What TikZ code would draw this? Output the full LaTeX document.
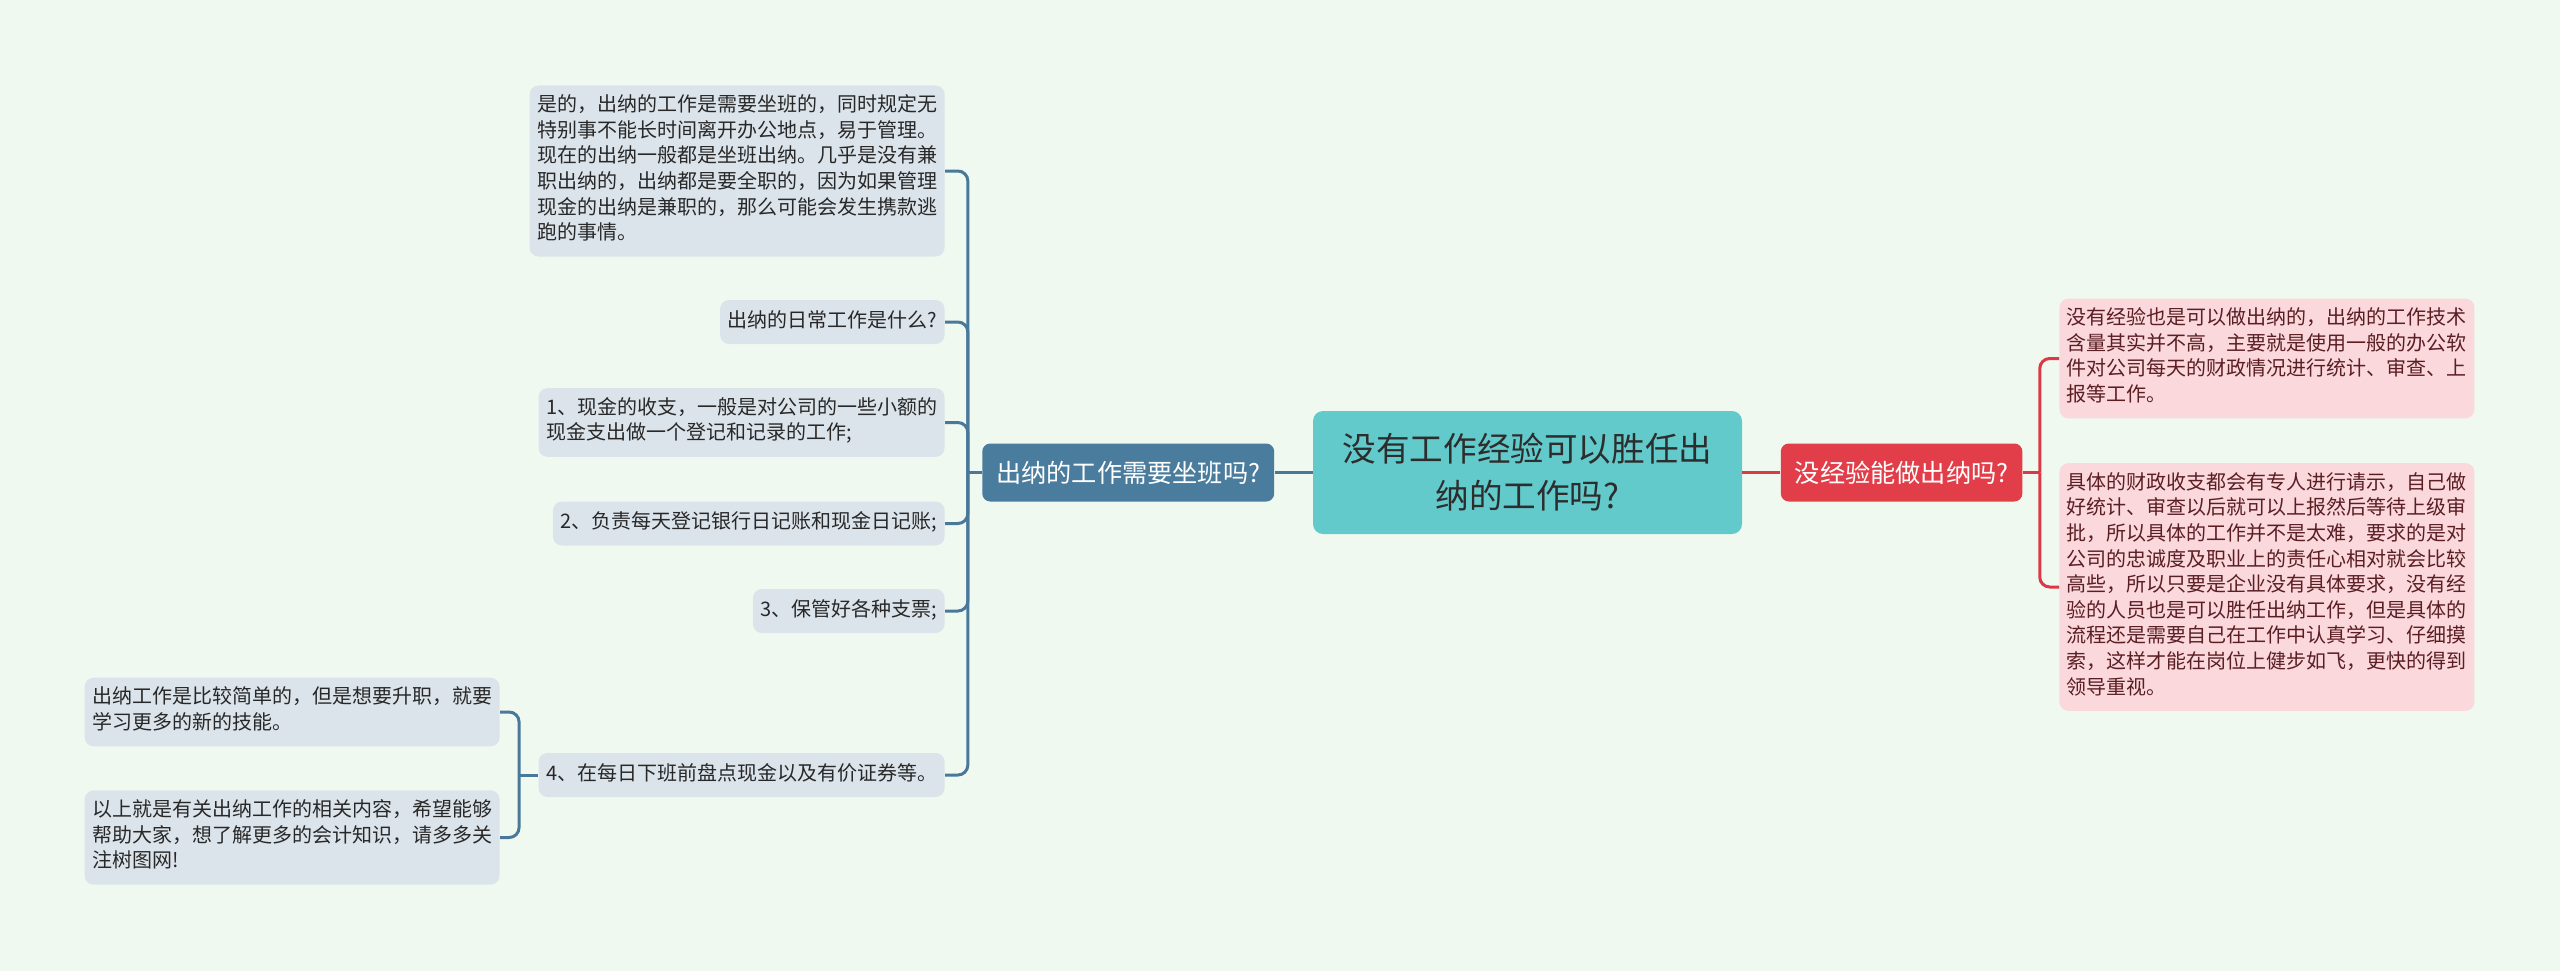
\documentclass[tikz,border=0pt]{standalone}
\usepackage{fontspec}
\setmainfont{Noto Sans CJK SC}
\usepackage{tikz}
\usetikzlibrary{positioning}
\definecolor{mintbg}{RGB}{240,249,240}
\definecolor{rootteal}{RGB}{99,202,204}
\definecolor{roottext}{RGB}{45,45,45}
\definecolor{sitblue}{RGB}{74,124,157}
\definecolor{leafblue}{RGB}{220,228,235}
\definecolor{lineblue}{RGB}{74,120,155}
\definecolor{inktext}{RGB}{40,40,40}
\definecolor{expred}{RGB}{226,62,74}
\definecolor{leafpink}{RGB}{250,216,220}
\definecolor{linered}{RGB}{220,56,70}
\definecolor{pinktext}{RGB}{90,30,35}
\tikzset{
  rootbox/.style={rounded corners=5pt, fill=rootteal, text=roottext,
    minimum width=214.5pt, minimum height=61.5pt,
    align=center, font=\fontsize{16.8pt}{23.5pt}\selectfont},
  topicbox/.style={rounded corners=4pt, text=white,
    minimum height=29pt, inner xsep=7pt,
    font=\fontsize{12.6pt}{15pt}\selectfont},
  sitbox/.style={topicbox, fill=sitblue},
  expbox/.style={topicbox, fill=expred},
  bleaf/.style={rounded corners=4.5pt, fill=leafblue, text=inktext,
    align=left, inner xsep=3.75pt, inner ysep=4.6pt,
    font=\fontsize{10pt}{12.8pt}\selectfont,
    execute at begin node=\strut, execute at end node=\strut},
  pleaf/.style={bleaf, fill=leafpink, text=pinktext},
  blink/.style={draw=lineblue, line width=1.5pt, rounded corners=5pt},
  rlink/.style={draw=linered, line width=1.5pt, rounded corners=5pt},
}

\begin{document}
\begin{tikzpicture}[x=0.5pt, y=-0.5pt, node distance=19pt]
  \fill[mintbg] (0,0) rectangle (2560,971);

  % Centre and the two topics
  \node[rootbox] (root) at (1527.5,472.5) {没有工作经验可以胜任出\\纳的工作吗?};
  \node[sitbox, left=of root] (sit) {出纳的工作需要坐班吗?};
  \node[expbox, right=of root] (noexp) {没经验能做出纳吗?};

  % Left leaves
  \node[bleaf, anchor=east] (q1) at (945,171) {是的，出纳的工作是需要坐班的，同时规定无\\特别事不能长时间离开办公地点，易于管理。\\现在的出纳一般都是坐班出纳。几乎是没有兼\\职出纳的，出纳都是要全职的，因为如果管理\\现金的出纳是兼职的，那么可能会发生携款逃\\跑的事情。};
  \node[bleaf, anchor=east] (q2) at (945,322) {出纳的日常工作是什么?};
  \node[bleaf, anchor=east] (q3) at (945,422.5) {1、现金的收支，一般是对公司的一些小额的\\现金支出做一个登记和记录的工作;};
  \node[bleaf, anchor=east] (q4) at (945,523.5) {2、负责每天登记银行日记账和现金日记账;};
  \node[bleaf, anchor=east] (q5) at (945,611) {3、保管好各种支票;};
  \node[bleaf, anchor=east] (q6) at (945,775) {4、在每日下班前盘点现金以及有价证券等。};
  \node[bleaf, anchor=east] (s1) at (500,712) {出纳工作是比较简单的，但是想要升职，就要\\学习更多的新的技能。};
  \node[bleaf, anchor=east] (s2) at (500,837.5) {以上就是有关出纳工作的相关内容，希望能够\\帮助大家，想了解更多的会计知识，请多多关\\注树图网!};

  % Right leaves
  \node[pleaf, anchor=west] (r1) at (2059,358.5) {没有经验也是可以做出纳的，出纳的工作技术\\含量其实并不高，主要就是使用一般的办公软\\件对公司每天的财政情况进行统计、审查、上\\报等工作。};
  \node[pleaf, anchor=west] (r2) at (2059,587) {具体的财政收支都会有专人进行请示，自己做\\好统计、审查以后就可以上报然后等待上级审\\批，所以具体的工作并不是太难，要求的是对\\公司的忠诚度及职业上的责任心相对就会比较\\高些，所以只要是企业没有具体要求，没有经\\验的人员也是可以胜任出纳工作，但是具体的\\流程还是需要自己在工作中认真学习、仔细摸\\索，这样才能在岗位上健步如飞，更快的得到\\领导重视。};

  % Links
  \draw[blink] (root) -- (sit);
  \draw[rlink] (root) -- (noexp);
  \draw[blink] (sit.west) -- ++(-7pt,0) coordinate (sitj);
  \draw[blink] (sitj) |- (q1.east);
  \draw[blink] (sitj) |- (q2.east);
  \draw[blink] (sitj) |- (q3.east);
  \draw[blink] (sitj) |- (q4.east);
  \draw[blink] (sitj) |- (q5.east);
  \draw[blink] (sitj) |- (q6.east);
  \draw[blink] (q6.west) -- ++(-9.5pt,0) coordinate (sumj);
  \draw[blink] (sumj) |- (s1.east);
  \draw[blink] (sumj) |- (s2.east);
  \draw[rlink] (noexp.east) -- ++(8.5pt,0) coordinate (expj);
  \draw[rlink] (expj) |- (r1.west);
  \draw[rlink] (expj) |- (r2.west);
\end{tikzpicture}
\end{document}
